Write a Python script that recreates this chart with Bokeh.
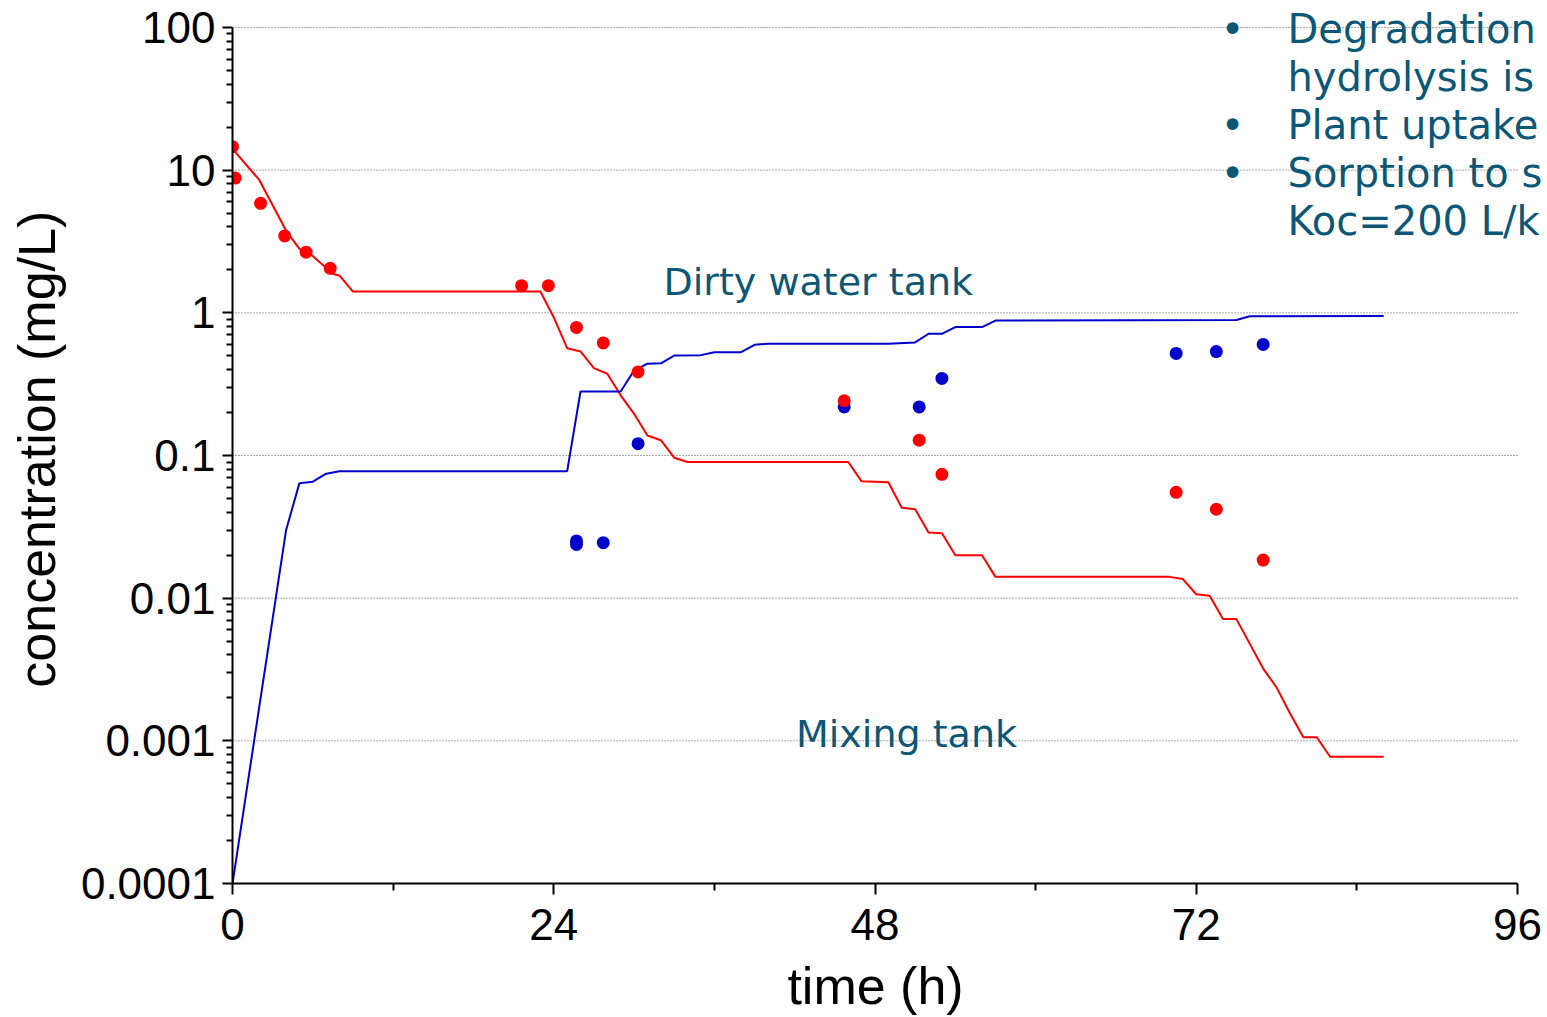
from bokeh.plotting import figure
from bokeh.models import FixedTicker, CustomJSTickFormatter, Label, Range1d
from bokeh.embed import file_html
from bokeh.resources import INLINE

# ---- data ----
red_line_t = [0, 2, 4, 5, 5.8, 7.5, 8, 9, 23, 24, 25, 26, 27, 28, 29, 30, 31, 32, 33, 34,
              46, 47, 49, 50, 51, 52, 53, 54, 56, 57, 70, 71, 72, 73, 74, 75, 77, 78, 79, 80, 81, 82, 86]
red_line_c = [14.1, 8.54, 3.77, 2.81, 2.59, 1.88, 1.82, 1.41, 1.41, 0.93, 0.565, 0.536, 0.41, 0.374,
              0.264, 0.196, 0.138, 0.128, 0.0965, 0.09, 0.09, 0.0659, 0.065, 0.043, 0.042, 0.0288,
              0.0285, 0.02, 0.02, 0.0141, 0.0141, 0.0136, 0.01065, 0.0104, 0.00713, 0.00713, 0.00321,
              0.00237, 0.00156, 0.00106, 0.00106, 0.000773, 0.000773]

blue_line_t = [0, 4, 5, 6, 7, 8, 25, 26, 29, 30, 31, 32, 33, 35, 36, 38, 39, 40, 49, 51, 52, 53,
               54, 56, 57, 75, 76, 86]
blue_line_c = [0.0001, 0.0299, 0.064, 0.0655, 0.0746, 0.0774, 0.0774, 0.281, 0.281, 0.394, 0.44,
               0.443, 0.502, 0.505, 0.53, 0.53, 0.597, 0.607, 0.607, 0.62, 0.713, 0.713, 0.794,
               0.794, 0.883, 0.89, 0.947, 0.95]

red_pts_t = [0, 0.2, 2.1, 3.9, 5.5, 7.3, 21.6, 23.6, 25.7, 27.7, 30.3, 45.7, 51.3, 53.0, 70.5, 73.5, 77.0]
red_pts_c = [14.6, 8.8, 5.85, 3.46, 2.66, 2.05, 1.55, 1.55, 0.79, 0.615, 0.385, 0.242, 0.128,
             0.0738, 0.0552, 0.042, 0.0185]

blue_pts_t = [25.7, 25.7, 27.7, 30.3, 45.7, 51.3, 53.0, 70.5, 73.5, 77.0]
blue_pts_c = [0.0238, 0.0252, 0.0245, 0.121, 0.219, 0.219, 0.347, 0.519, 0.535, 0.60]

x_min, x_max = 0, 96
y_min, y_max = 0.0001, 100
x_ticks = [0, 24, 48, 72, 96]
x_minor = [12, 36, 60, 84]
y_ticks = [0.0001, 0.001, 0.01, 0.1, 1, 10, 100]

tank_labels = ["Dirty water tank", "Mixing tank"]
tank_x = [32.2, 42.1]
tank_y = [1.65, 0.00112]

note_lines = ["Degradation", "hydrolysis is", "Plant uptake", "Sorption to s", "Koc=200 L/k"]
note_bullets = [True, False, True, True, False]

TEAL = "#0B5775"
RED = "#FF0000"
BLUE = "#0000CC"

W, H = 1547, 1017
LEFT, RIGHT_AXIS_END, TOP_AXIS_END, BOTTOM = 232, 1517, 27, 884
# the frame runs to the right and top page edges so the notes are cut by the page edge,
# as in the reference; the axes themselves stop at 96 h and 100 mg/L
x_range_end = x_max * (W - LEFT) / (RIGHT_AXIS_END - LEFT)
decades = 6.0
y_range_end = y_max * 10 ** (decades * TOP_AXIS_END / (BOTTOM - TOP_AXIS_END))

p = figure(width=W, height=H, y_axis_type="log",
           x_range=Range1d(x_min, x_range_end), y_range=Range1d(y_min, y_range_end),
           output_backend="svg", toolbar_location=None,
           min_border_left=LEFT, min_border_right=0, min_border_top=0,
           min_border_bottom=H - BOTTOM)
p.outline_line_color = None
p.background_fill_color = "white"
p.border_fill_color = "white"

p.xgrid.grid_line_color = None
p.ygrid.grid_line_color = None

# horizontal dotted grid lines ending at the last x tick
p.segment(x0=[x_min] * len(y_ticks), y0=y_ticks, x1=[x_max] * len(y_ticks), y1=y_ticks,
          line_color="#555555", line_dash="1 2", line_width=1)

minor_y = [m * 10.0 ** e for e in range(-4, 2) for m in range(2, 10)]
p.yaxis.ticker = FixedTicker(ticks=y_ticks, minor_ticks=minor_y)
p.yaxis.formatter = CustomJSTickFormatter(code="return String(Number(tick.toPrecision(6)));")
p.yaxis.bounds = (y_min, y_max)
p.xaxis.ticker = FixedTicker(ticks=x_ticks, minor_ticks=x_minor)
p.xaxis.bounds = (x_min, x_max)

for ax in (p.xaxis[0], p.yaxis[0]):
    ax.axis_line_color = "black"
    ax.axis_line_width = 2
    ax.major_tick_line_color = "black"
    ax.major_tick_line_width = 2
    ax.minor_tick_line_color = "black"
    ax.minor_tick_line_width = 2
    ax.major_tick_in = 0
    ax.minor_tick_in = 0
    ax.major_label_text_font = "Liberation Sans"
    ax.major_label_text_font_size = "44px"
    ax.major_label_text_color = "black"
    ax.axis_label_text_font = "Liberation Sans"
    ax.axis_label_text_font_size = "52px"
    ax.axis_label_text_font_style = "normal"
    ax.axis_label_text_color = "black"

NBSP = "\u00a0"
p.yaxis.major_tick_out = 10
p.yaxis.minor_tick_out = 6
p.yaxis.major_label_standoff = 7
# trailing no-break space re-centres the title on the drawn axis (frame is taller than the axis)
p.yaxis.axis_label = "concentration (mg/L)" + NBSP
p.yaxis.axis_label_standoff = 12

p.xaxis.major_tick_out = 11
p.xaxis.minor_tick_out = 7
p.xaxis.major_label_standoff = 14
p.xaxis.axis_label = "time (h)" + NBSP * 2
p.xaxis.axis_label_standoff = 14

p.line(red_line_t, red_line_c, line_color=RED, line_width=2)
p.line(blue_line_t, blue_line_c, line_color=BLUE, line_width=2)
p.scatter(blue_pts_t, blue_pts_c, size=13, fill_color=BLUE, line_color=None)
p.scatter(red_pts_t, red_pts_c, size=13, fill_color=RED, line_color=None)

for txt, tx, ty in zip(tank_labels, tank_x, tank_y):
    p.add_layout(Label(x=tx, y=ty, text=txt, text_font="DejaVu Sans", text_font_size="38px",
                       text_color=TEAL, text_baseline="middle", text_align="left"))

# notes at the top right (screen units relative to the frame: x from left, y from bottom)
for i, (txt, b) in enumerate(zip(note_lines, note_bullets)):
    baseline = 29 + 48 * i
    p.add_layout(Label(x=1287 - LEFT, y=BOTTOM - baseline, x_units="screen", y_units="screen",
                       text=txt, text_font="DejaVu Sans", text_font_size="40px",
                       text_color=TEAL, text_baseline="alphabetic", text_align="left"))
    if b:
        p.add_layout(Label(x=1232 - LEFT, y=BOTTOM - baseline, x_units="screen", y_units="screen",
                           text="•", text_font="DejaVu Sans", text_font_size="40px",
                           text_color=TEAL, text_baseline="alphabetic", text_align="center"))

open("out.html", "w").write(file_html(p, INLINE))
